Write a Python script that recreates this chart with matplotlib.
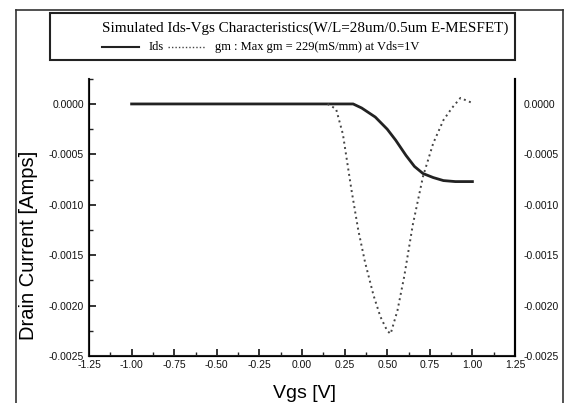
import matplotlib.pyplot as plt
from matplotlib.lines import Line2D
from matplotlib.patches import Rectangle

# Ids curve
vgs_ids = [-1.00, -0.50, 0.00, 0.20, 0.30, 0.35, 0.43, 0.50, 0.55, 0.61, 0.66, 0.71, 0.77, 0.83, 0.90, 1.00]
ids = [0.0, 0.0, 0.0, 0.0, 0.0, -0.00004, -0.00013, -0.00025, -0.00036, -0.00051, -0.00062, -0.00069, -0.00073, -0.00076, -0.00077, -0.00077]

# gm curve (dotted)
vgs_gm = [0.15, 0.20, 0.24, 0.29, 0.33, 0.37, 0.42, 0.46, 0.50, 0.52, 0.56, 0.60, 0.65, 0.71, 0.77, 0.83, 0.88, 0.93, 0.97, 1.00]
gm = [0.0, -0.00005, -0.0003, -0.00085, -0.00125, -0.00157, -0.0019, -0.00211, -0.00225, -0.00228, -0.00205, -0.00171, -0.00120, -0.00072, -0.00039, -0.00016, -0.00004, 0.00006, 0.00003, 0.00001]

xticks = [-1.25, -1.00, -0.75, -0.50, -0.25, 0.00, 0.25, 0.50, 0.75, 1.00, 1.25]
yticks = [0.0, -0.0005, -0.0010, -0.0015, -0.0020, -0.0025]

plt.rcParams['font.family'] = ['Liberation Sans', 'DejaVu Sans']

fig = plt.figure(figsize=(5.68, 4.03), dpi=100)
ax = fig.add_axes([0.1567, 0.1166, 0.75, 0.688])

ax.plot(vgs_ids, ids, color='#222222', lw=2.0)
ax.plot(vgs_gm, gm, color='#444444', lw=1.4, ls=(0, (1, 1.8)))

ax.set_xlim(-1.25, 1.25)
ax.set_ylim(-0.0025, 0.00025)
ax.set_xticks(xticks)
ax.set_xticklabels([f"{t:.2f}" for t in xticks])
ax.set_yticks(yticks)
ax.set_yticklabels([f"{t:.4f}" for t in yticks])
ax.set_xticks([t + 0.125 for t in xticks[:-1]], minor=True)
ax.set_yticks([-0.00225, -0.00175, -0.00125, -0.00075, -0.00025, 0.00025], minor=True)
ax.tick_params(axis='both', which='major', direction='in', length=5, width=1.2, labelsize=7.5, colors='#111111')
ax.tick_params(axis='both', which='minor', direction='in', length=3, width=1.0, colors='#222222')
ax.tick_params(axis='x', pad=3)
ax.spines['top'].set_visible(False)
for s in ['left', 'bottom', 'right']:
    ax.spines[s].set_linewidth(1.5)
    ax.spines[s].set_color('#222222')

ax2 = ax.twinx()
ax2.set_ylim(ax.get_ylim())
ax2.set_yticks(yticks)
ax2.set_yticklabels([f"{t:.4f}" for t in yticks])
ax2.tick_params(axis='y', length=0, labelsize=7.5, pad=6, colors='#111111')
ax2.spines['top'].set_visible(False)
ax2.spines['right'].set_linewidth(1.5)

ax.set_xlabel("Vgs [V]", fontsize=14)
ax.set_ylabel("Drain Current [Amps]", fontsize=14.5)
ax.xaxis.set_label_coords(0.507, -0.134)
ax.xaxis.label.set_va('center')
ax.yaxis.set_label_coords(-0.143, 0.40)
ax.yaxis.label.set_va('center')

# outer frame
fig.add_artist(Line2D([0.028, 0.991], [0.975, 0.975], color='#333333', lw=1.2))
fig.add_artist(Line2D([0.028, 0.028], [0.0, 0.975], color='#333333', lw=1.2))
fig.add_artist(Line2D([0.991, 0.991], [0.0, 0.975], color='#333333', lw=1.2))

# legend box
fig.add_artist(Rectangle((0.088, 0.851), 0.819, 0.117, fill=False, ec='#222222', lw=1.5))
fig.text(0.537, 0.930, "Simulated Ids-Vgs Characteristics(W/L=28um/0.5um E-MESFET)",
         ha='center', va='center', fontsize=10.9, family='Liberation Serif')
fig.add_artist(Line2D([0.18, 0.245], [0.883, 0.883], color='#222222', lw=1.5))
fig.text(0.262, 0.883, "Ids", ha='left', va='center', fontsize=9, family='Liberation Serif')
fig.add_artist(Line2D([0.296, 0.362], [0.883, 0.883], color='#444444', lw=1.0, ls=(0, (1, 1.5))))
fig.text(0.378, 0.883, "gm : Max gm = 229(mS/mm) at Vds=1V", ha='left', va='center',
         fontsize=9, family='Liberation Serif')

fig.savefig("out.png", dpi=100)
